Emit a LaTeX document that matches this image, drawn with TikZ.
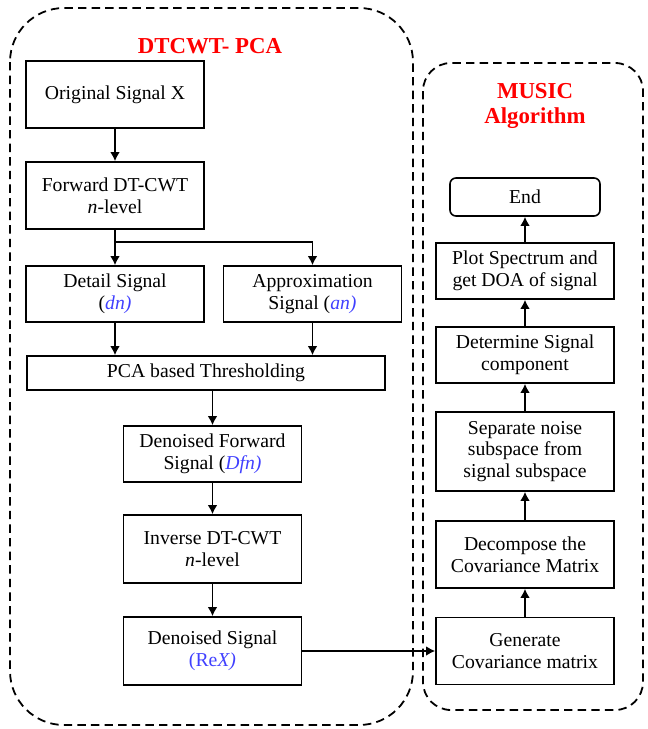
\documentclass[tikz,border=0pt]{standalone}
\usepackage{fontspec}
\setmainfont{Liberation Serif}
\usetikzlibrary{positioning, arrows.meta}
\definecolor{vblue}{RGB}{64,64,255}
\definecolor{tred}{RGB}{255,0,0}
\newcommand{\vb}[1]{\textcolor{vblue}{#1}}

\begin{document}
\begin{tikzpicture}[x=0.5pt, y=-0.5pt,
		line width=0.8pt,
		blk/.style={draw, align=center, inner sep=1pt, minimum width=89pt, font=\fontsize{9.85}{10.85}\selectfont},
		frame/.style={draw, line width=0.9pt, dash pattern=on 4.2pt off 2.6pt},
		ttl/.style={text=tred, align=center, font=\fontsize{11.4}{12.5}\selectfont\bfseries},
		>={Latex[length=4.5pt, width=4.8pt]}
		]
		\useasboundingbox (0,0) rectangle (648,729);
		\draw[frame, rounded corners=27pt] (10,8) rectangle (413,725);
		\draw[frame, rounded corners=14pt] (423,63) rectangle (643,710);
		\node[ttl] (t1) at (210,46) {DTCWT- PCA};
		\node[ttl] (t2) at (535,106) {MUSIC\\Algorithm};
		
		% DTCWT- PCA part
		\node[blk, minimum height=33.5pt] (orig) at (115,94.5) {Original Signal X};
		\node[blk, minimum height=33.5pt] (fwd) at (115,195.5) {Forward DT-CWT\\\textit{n}-level};
		\node[blk, minimum height=28pt] (detail) at (115,294) {Detail Signal\\(\vb{\textit{dn)}}};
		\node[blk, minimum height=28pt] (approx) at (312.5,294) {Approximation\\Signal (\vb{\textit{an)}}};
		\node[blk, minimum width=179pt, minimum height=17pt] (pca) at (206,373) {PCA based Thresholding};
		\node[blk, minimum height=28pt] (dfwd) at (212.5,454) {Denoised Forward\\Signal (\vb{\textit{Dfn)}}};
		\node[blk, minimum height=34pt] (inv) at (212.5,549) {Inverse DT-CWT\\\textit{n}-level};
		\node[blk, minimum height=34pt] (dsig) at (212.5,651) {Denoised Signal\\\vb{(Re\textit{X)}}};
		\coordinate (sp) at (115,242);
		\draw[->] (orig) -- (fwd);
		\draw[->] (fwd) -- (detail);
		\draw[->] (sp) -| (approx);
		\draw[->] (detail) -- (detail |- pca.north);
		\draw[->] (approx) -- (approx |- pca.north);
		\draw[->] (pca.south -| dfwd) -- (dfwd);
		\draw[->] (dfwd) -- (inv);
		\draw[->] (inv) -- (dsig);
		
		% MUSIC part
		\node[blk, rounded corners=3pt, minimum width=75pt, minimum height=19pt] (endn) at (525,197) {End};
		\node[blk, minimum height=28pt] (plot) at (525,271) {Plot Spectrum and\\get DOA of signal};
		\node[blk, minimum height=28pt] (det) at (525,355) {Determine Signal\\component};
		\node[blk, minimum height=39.5pt] (sep) at (525,451.5) {Separate noise\\subspace from\\signal subspace};
		\node[blk, minimum height=33.5pt] (dec) at (525,554.5) {Decompose the\\Covariance Matrix};
		\node[blk, minimum height=33.5pt] (gen) at (525,651) {Generate\\Covariance matrix};
		\draw[->] (dsig) -- (gen);
		\draw[->] (gen) -- (dec);
		\draw[->] (dec) -- (sep);
		\draw[->] (sep) -- (det);
		\draw[->] (det) -- (plot);
		\draw[->] (plot) -- (endn);
		
		
\end{tikzpicture}
\end{document}
